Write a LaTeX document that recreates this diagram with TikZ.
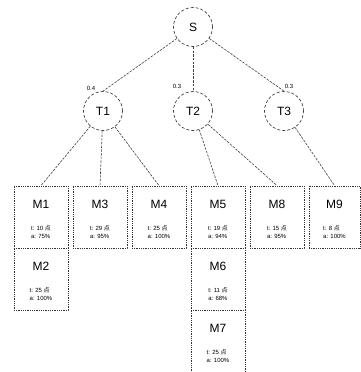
\documentclass[tikz,border=0pt]{standalone}
\usepackage{fontspec}
\setmainfont{Liberation Sans}
\newfontfamily\cjk{Noto Sans CJK SC}
\tikzset{
  edge/.style={draw=black!75, line width=0.6pt, dash pattern=on 2.5pt off 1.2pt},
  task/.style={circle, draw=black!75, line width=0.7pt, densely dashed, minimum size=39pt,
    inner sep=0pt, font=\fontsize{12}{14}\selectfont},
  mbox/.style={draw=black!80, line width=0.8pt, densely dotted, minimum height=62pt,
    inner sep=0pt},
  mtitle/.style={font=\fontsize{12}{14}\selectfont, inner sep=0pt},
  mstat/.style={font=\fontsize{6}{8.5}\selectfont, align=left, inner sep=0pt},
  prob/.style={font=\fontsize{6}{7}\selectfont, inner sep=0pt}
}
% machine box: [width]{name}{centre x}{top y}{t value}{a value}
\newcommand\machine[6][54]{%
  \node[mbox, minimum width=#1pt] (#2) at (#3,#4+31) {};
  \node[mtitle] (#2-name) at (#3,#4+18) {#2};
  \node[mstat] (#2-stats) at (#3,#4+46) {t: #5 {\cjk 点}\\a: #6\%};
}
\begin{document}
\begin{tikzpicture}[x=1pt, y=-1pt]
  \useasboundingbox (0,0) rectangle (361,372);

  % root and tasks
  \node[task] (S)  at (193,27)  {S};
  \node[task] (T1) at (103,111) {T1};
  \node[task] (T2) at (193,111) {T2};
  \node[task] (T3) at (284,111) {T3};

  % machines
  \machine{M1}{41}{186}{10}{75}
  \machine{M2}{41}{248}{25}{100}
  \machine{M3}{100}{186}{29}{95}
  \machine{M4}{159}{186}{25}{100}
  \machine{M5}{218}{186}{19}{94}
  \machine{M6}{218}{248}{11}{68}
  \machine{M7}{218}{310}{25}{100}
  \machine{M8}{277}{186}{15}{95}
  \machine[51]{M9}{334.5}{186}{8}{100}

  % connectors
  \draw[edge] (S) -- (T1.north);
  \draw[edge] (S) -- (T2);
  \draw[edge] (S) -- (T3.north);
  \draw[edge] (T1) -- (M1.north);
  \draw[edge] (T1) -- (M3.north);
  \draw[edge] (T1) -- (M4.north);
  \draw[edge] (T2) -- (M5.north);
  \draw[edge] (T2) -- (M8.north);
  \draw[edge] (T3) -- (M9.north);

  % branch weights
  \node[prob] (p1) at (91,88)  {0.4};
  \node[prob] (p2) at (177,86) {0.3};
  \node[prob] (p3) at (289,86) {0.3};
\end{tikzpicture}
\end{document}
